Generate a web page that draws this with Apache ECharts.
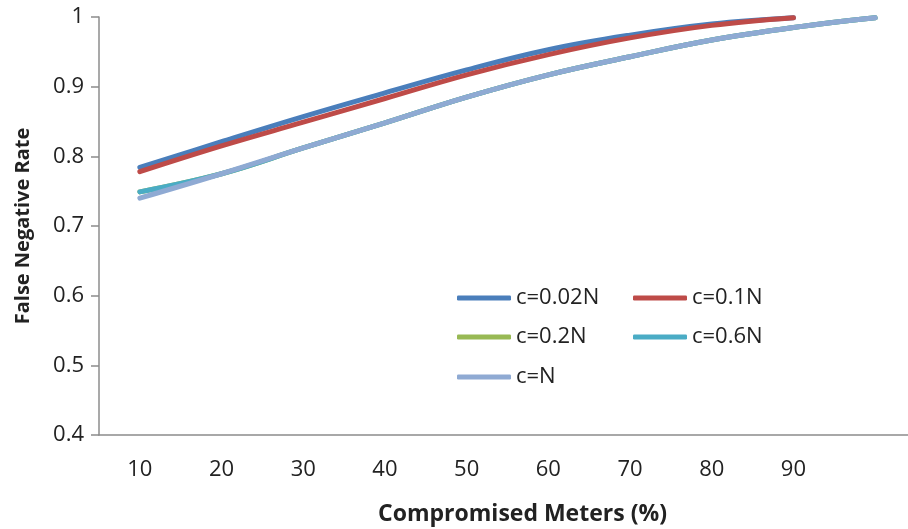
<!DOCTYPE html>
<html>
<head>
<meta charset="utf-8">
<script src="https://cdn.jsdelivr.net/npm/echarts@6/dist/echarts.min.js"></script>
<style>html,body{margin:0;padding:0;background:#fff}#c{width:908px;height:529px}</style>
</head>
<body>
<div id="c"></div>
<script>
var categories = ['10','20','30','40','50','60','70','80','90',''];
var seriesNames = ['c=0.02N','c=0.1N','c=0.2N','c=0.6N','c=N'];
var c002 = [0.784, 0.821, 0.857, 0.891, 0.924, 0.953, 0.974, 0.990, 0.999];
var c01  = [0.778, 0.815, 0.849, 0.883, 0.917, 0.946, 0.970, 0.988, 0.999];
var c02  = [0.749, 0.775, 0.812, 0.848, 0.885, 0.917, 0.943, 0.967, 0.985, 0.999];
var c06  = [0.749, 0.775, 0.812, 0.848, 0.885, 0.917, 0.943, 0.967, 0.985, 0.999];
var cN   = [0.740, 0.775, 0.812, 0.848, 0.885, 0.917, 0.943, 0.967, 0.985, 0.999];
var yTicks = {min: 0.4, max: 1, interval: 0.1};

var colors = ['#4A7EBB', '#BE4B48', '#98B954', '#4AACC5', '#8FAAD3'];
var values = [c002, c01, c02, c06, cN];
var font = '"Open Sans", sans-serif';

var chart = echarts.init(document.getElementById('c'));
var legendPos = [[457, 287], [633, 287], [457, 326], [633, 326], [457, 366]];
chart.setOption({
  animation: false,
  backgroundColor: '#fff',
  color: colors,
  grid: {left: 99, top: 17, width: 817, height: 418, containLabel: false, outerBoundsMode: 'none'},
  legend: seriesNames.map(function (n, i) {
    return {
      data: [n], left: legendPos[i][0], top: legendPos[i][1], padding: 0,
      icon: 'roundRect', itemWidth: 54, itemHeight: 5,
      textStyle: {fontFamily: font, fontSize: 22, color: '#222'}
    };
  }),
  xAxis: {
    type: 'category', data: categories, boundaryGap: true,
    name: 'Compromised Meters (%)', nameLocation: 'middle', nameGap: 68,
    nameTextStyle: {fontFamily: font, fontSize: 23, fontWeight: 'bold', color: '#222', padding: [0, 0, 0, 30]},
    axisLine: {lineStyle: {color: '#8c8c8c', width: 1.5}},
    axisTick: {length: 8, lineStyle: {color: '#8c8c8c', width: 1.5}},
    axisLabel: {fontFamily: font, fontSize: 22, color: '#222', margin: 24},
    splitLine: {show: false}
  },
  yAxis: {
    type: 'value', min: yTicks.min, max: yTicks.max, interval: yTicks.interval,
    name: 'False Negative Rate', nameLocation: 'middle', nameGap: 66, nameRotate: 90,
    nameTextStyle: {fontFamily: font, fontSize: 20, fontWeight: 'bold', color: '#222'},
    axisLine: {show: true, lineStyle: {color: '#8c8c8c', width: 1.5}},
    axisTick: {show: true, length: 8, lineStyle: {color: '#8c8c8c', width: 1.5}},
    axisLabel: {fontFamily: font, fontSize: 22, color: '#222', margin: 15,
      formatter: function (v) { return String(Math.round(v * 10) / 10); }},
    splitLine: {show: false}
  },
  series: seriesNames.map(function (n, i) {
    return {
      name: n, type: 'line', data: values[i], smooth: 0.4, symbol: 'none',
      lineStyle: {width: 5, color: colors[i], cap: 'round'},
      itemStyle: {color: colors[i]}
    };
  })
});
</script>
</body>
</html>
